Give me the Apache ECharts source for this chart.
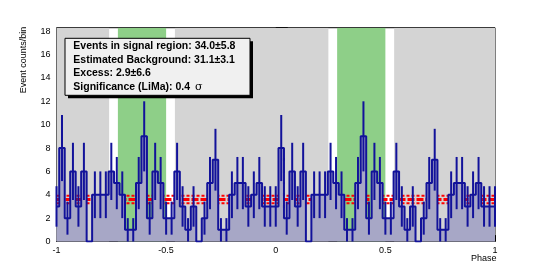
<!DOCTYPE html>
<html><head><meta charset="utf-8">
<script src="https://cdn.jsdelivr.net/npm/echarts@6/dist/echarts.min.js"></script>
<style>html,body{margin:0;padding:0;background:#fff}#c{width:552px;height:269px}</style>
</head><body><div id="c"></div>
<script>
// ---- data ----
const phaseStart = -1;
const binWidth = 0.025;
// counts per bin, bins centred on phaseStart + k*binWidth (k = 0..80)
const counts = [3,8,2,6,3,6,0,4,4,4,6,5,4,1,1,5,9,2,6,5,2,2,6,3,1,3,0,2,5,7,1,1,4,5,5,3,4,5,3,3,
                3,8,2,6,3,6,0,4,4,4,6,5,4,1,1,5,9,2,6,5,2,2,6,3,1,3,0,2,5,7,1,1,4,5,5,3,4,5,3,3,3];
const offRegions = [[-1,-0.76],[-0.46,0.24],[0.54,1]];   // grey background regions
const onRegions  = [[-0.72,-0.5],[0.28,0.5]];            // green signal regions
const bgLevel = 3.6, bgLow = 3.27, bgHigh = 3.92;
const xTicks = [-1,-0.5,0,0.5,1];
const yTicks = [0,2,4,6,8,10,12,14,16,18];
const statLines = ['Events in signal region: 34.0\u00b15.8','Estimated Background: 31.1\u00b13.1','Excess: 2.9\u00b16.6','Significance (LiMa): 0.4 '];
const yTitle = 'Event counts/bin', xTitle = 'Phase';

const FONT = "'Liberation Sans', Arial, Helvetica, sans-serif";
const YMAX = 18.3;
const BLUE = '#12129a';

const histData = counts.map((v,k)=>[phaseStart + k*binWidth, v]);
const errData = counts.map((v,k)=>[phaseStart + k*binWidth, v-Math.sqrt(v), v+Math.sqrt(v)]);
const regionData = offRegions.map(r=>[r[0],r[1],0]).concat(onRegions.map(r=>[r[0],r[1],1]));

const chart = echarts.init(document.getElementById('c'), null, {renderer:'canvas'});
function redLine(y, w, dash){
  return {type:'line', data:[[-1,y],[1,y]], symbol:'none', z:2, silent:true,
    lineStyle:{color:'#ff0000', width:w, type:dash}, animation:false};
}
const boxFont = "bold 10.5px "+FONT;
chart.setOption({
  animation:false,
  grid:{left:56.5, right:57, top:27.7, bottom:27.5, show:true, borderColor:'#000', borderWidth:1,
    backgroundColor:'#fff', containLabel:false, outerBoundsMode:'none'},
  xAxis:{type:'value', min:xTicks[0], max:xTicks[xTicks.length-1], interval:0.5,
    axisLine:{show:true, onZero:false, lineStyle:{color:'#000', width:1}},
    axisTick:{show:true, inside:true, length:6.4, lineStyle:{color:'#000'}},
    minorTick:{show:true, splitNumber:5, length:3.2, lineStyle:{color:'#000'}},
    splitLine:{show:false},
    axisLabel:{color:'#000', fontFamily:FONT, fontSize:9, margin:5}
  },
  yAxis:{type:'value', min:0, max:YMAX, interval:2,
    axisLine:{show:true, lineStyle:{color:'#000', width:1}},
    axisTick:{show:true, inside:true, length:12, lineStyle:{color:'#000'}},
    minorTick:{show:true, splitNumber:4, length:6, lineStyle:{color:'#000'}},
    splitLine:{show:false},
    axisLabel:{color:'#000', fontFamily:FONT, fontSize:9, margin:6, showMaxLabel:false}
  },
  series:[
    {type:'custom', z:1, silent:true, data:regionData, clip:true,
      renderItem:function(params, api){
        const a = api.coord([api.value(0), YMAX]);
        const b = api.coord([api.value(1), 0]);
        return {type:'rect', shape:{x:a[0], y:a[1], width:b[0]-a[0], height:b[1]-a[1]},
          style:{fill: api.value(2) ? '#8ecf88' : '#d4d4d4'}};
      }},
    redLine(bgLow, 2, [3,2]),
    redLine(bgHigh, 2, [3,2]),
    redLine(bgLevel, 3, [7,2]),
    {type:'line', z:3, data:histData, step:'middle', symbol:'none', silent:true,
      lineStyle:{color:BLUE, width:2}, areaStyle:{color:'#a7a7c6', opacity:1}},
    {type:'custom', z:4, silent:true, data:errData,
      renderItem:function(params, api){
        const x = api.value(0), lo = api.value(1), hi = api.value(2);
        if (hi - lo <= 0) return null;
        const p1 = api.coord([x, lo]), p2 = api.coord([x, hi]);
        return {type:'line', shape:{x1:p1[0], y1:p1[1], x2:p2[0], y2:p2[1]},
          style:{stroke:BLUE, lineWidth:2}};
      }}
  ],
  graphic:[
    {type:'text', x:23.5, y:26.7, rotation:Math.PI/2, z:12,
      style:{text:yTitle, fill:'#000', font:"9px "+FONT, align:'right', verticalAlign:'middle'}},
    {type:'text', x:496.5, y:259, z:12,
      style:{text:xTitle, fill:'#000', font:"9px "+FONT, align:'right', verticalAlign:'middle'}},
    {type:'rect', x:68, y:41.3, shape:{width:185, height:57}, style:{fill:'#000'}, z:10},
    {type:'rect', x:65, y:38.3, shape:{width:185, height:57}, style:{fill:'#f0f0f0', stroke:'#000', lineWidth:1}, z:11},
    {type:'text', x:73.3, y:46, z:12, style:{text:statLines[0], fill:'#000', font:boxFont, verticalAlign:'middle'}},
    {type:'text', x:73.3, y:59.7, z:12, style:{text:statLines[1], fill:'#000', font:boxFont, verticalAlign:'middle'}},
    {type:'text', x:73.3, y:73.4, z:12, style:{text:statLines[2], fill:'#000', font:boxFont, verticalAlign:'middle'}},
    {type:'text', x:73.3, y:87.1, z:12, style:{text:'{b|'+statLines[3]+'}{s|\u03c3}', fill:'#000', verticalAlign:'middle',
      rich:{b:{font:boxFont, fill:'#000'}, s:{font:"11px 'DejaVu Serif', serif", fill:'#000', padding:[0,0,0,2]}}}}
  ]
});
</script></body></html>
